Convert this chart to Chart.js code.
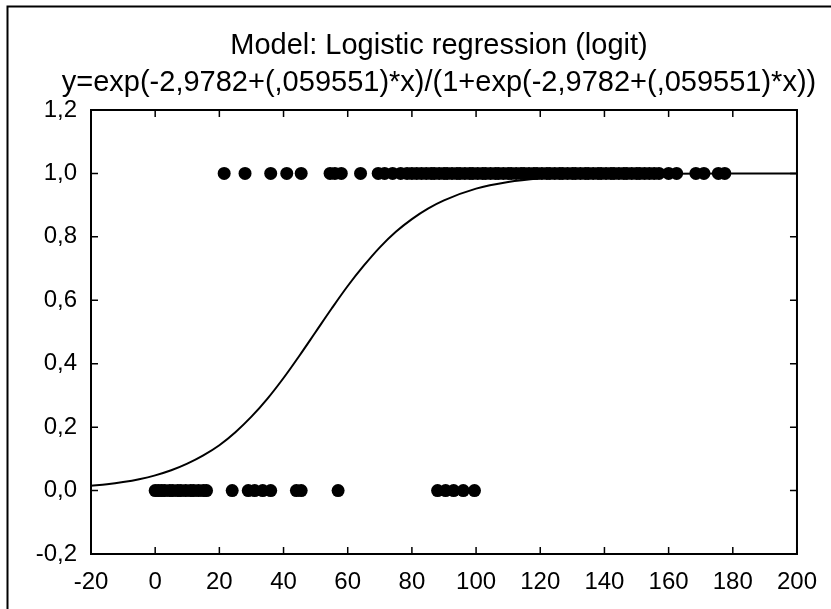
<!DOCTYPE html>
<html>
<head>
<meta charset="utf-8">
<script src="https://cdn.jsdelivr.net/npm/chart.js@4/dist/chart.umd.min.js"></script>
<style>
  html, body { margin: 0; padding: 0; background: #fff; }
  #wrap { width: 831px; height: 609px; position: relative; }
</style>
</head>
<body>
<div id="wrap"><canvas id="c"></canvas></div>
<script>
// ---- data ----
const titleLines = [
  'Model: Logistic regression (logit)',
  'y=exp(-2,9782+(,059551)*x)/(1+exp(-2,9782+(,059551)*x))'
];
const xTickLabels = ['-20','0','20','40','60','80','100','120','140','160','180','200'];
const yTickLabels = ['-0,2','0,0','0,2','0,4','0,6','0,8','1,0','1,2'];

// observations with outcome 1
const onesX = [21.5, 28, 36, 41, 45.5, 54.5, 56, 58, 64, 69.5, 71.5, 74, 76.5, 78.5,
  80, 81.5, 83, 84.5, 86, 87, 88.5, 90, 91, 92.5, 94, 95, 96.5, 98, 99, 100.5,
  102, 103, 104.5, 106, 107, 108.5, 110, 111, 112.5, 114, 115, 116.5, 118, 119,
  120.5, 122, 123, 124.5, 126, 127, 128.5, 130, 131, 132.5, 134, 135, 136.5, 138,
  139, 140.5, 142, 143, 144.5, 146, 147, 148.5, 150, 151, 152.5, 154, 155.5, 157,
  160, 162.5, 168.5, 171, 175.5, 177.5];
// observations with outcome 0
const zerosX = [0, 1, 2, 3, 4.5, 5.5, 7, 8, 9.5, 11, 12, 13.5, 15, 16,
  24, 29, 31, 33.5, 36, 44, 45.5, 57, 88, 90.5, 93, 96, 99.5];

// fitted curve
const curveX = [-20, -15, -10, -5, 0, 5, 10, 15, 20, 25, 30, 35, 40, 45, 50, 55, 60, 65,
  70, 75, 80, 85, 90, 100, 110, 120, 130, 140, 160, 180, 200];
const curveY = [0.015, 0.020, 0.027, 0.036, 0.048, 0.064, 0.085, 0.111, 0.143, 0.184,
  0.233, 0.290, 0.355, 0.426, 0.500, 0.574, 0.645, 0.709, 0.767, 0.816, 0.856, 0.889,
  0.915, 0.952, 0.973, 0.985, 0.992, 0.995, 0.999, 1.000, 1.000];

const FONT = "'Liberation Sans', Arial, sans-serif";

const frameTitleTicks = {
  id: 'frameTitleTicks',
  afterDraw(chart) {
    const ctx = chart.ctx;
    const a = chart.chartArea;
    const xs = chart.scales.x, ys = chart.scales.y;
    ctx.save();
    // outer frame (top/left)
    ctx.strokeStyle = '#000';
    ctx.lineWidth = 2;
    ctx.beginPath();
    ctx.moveTo(7.5, 640);
    ctx.lineTo(7.5, 6.5);
    ctx.lineTo(860, 6.5);
    ctx.stroke();
    // plot border
    ctx.lineWidth = 2;
    ctx.strokeRect(a.left, a.top, a.right - a.left, a.bottom - a.top);
    // inward ticks
    ctx.lineWidth = 1.5;
    const L = 7;
    ctx.beginPath();
    xs.ticks.forEach(t => {
      const px = xs.getPixelForValue(t.value);
      ctx.moveTo(px, a.bottom); ctx.lineTo(px, a.bottom - L);
      ctx.moveTo(px, a.top); ctx.lineTo(px, a.top + L);
    });
    ys.ticks.forEach(t => {
      const py = ys.getPixelForValue(t.value);
      ctx.moveTo(a.left, py); ctx.lineTo(a.left + L, py);
      ctx.moveTo(a.right, py); ctx.lineTo(a.right - L, py);
    });
    ctx.stroke();
    // title (two lines, centred over the plot)
    ctx.fillStyle = '#000';
    ctx.font = '29px ' + FONT;
    ctx.textAlign = 'center';
    ctx.textBaseline = 'middle';
    const cx = (a.left + a.right) / 2 - 5;
    ctx.fillText(titleLines[0], cx, 46);
    ctx.fillText(titleLines[1], cx, 83);
    ctx.restore();
  }
};

new Chart(document.getElementById('c'), {
  type: 'scatter',
  data: {
    datasets: [
      {
        label: 'curve',
        data: curveX.map((x, i) => ({ x, y: curveY[i] })),
        showLine: true,
        borderColor: '#000',
        borderWidth: 2,
        pointRadius: 0,
        cubicInterpolationMode: 'monotone',
        order: 2
      },
      {
        label: 'y=1',
        data: onesX.map(x => ({ x, y: 1 })),
        backgroundColor: '#000',
        borderColor: '#000',
        borderWidth: 0,
        pointRadius: 6.5,
        order: 1
      },
      {
        label: 'y=0',
        data: zerosX.map(x => ({ x, y: 0 })),
        backgroundColor: '#000',
        borderColor: '#000',
        borderWidth: 0,
        pointRadius: 6.5,
        order: 1
      }
    ]
  },
  options: {
    responsive: true,
    maintainAspectRatio: false,
    animation: false,
    events: [],
    layout: { padding: { left: 0, right: 30, top: 110, bottom: 0 } },
    plugins: {
      legend: { display: false },
      tooltip: { enabled: false },
      title: { display: false }
    },
    scales: {
      x: {
        type: 'linear',
        min: -20, max: 200,
        grid: { display: false, drawTicks: false },
        border: { display: false },
        ticks: {
          stepSize: 20,
          color: '#000',
          padding: 14,
          maxRotation: 0,
          autoSkip: false,
          font: { family: FONT, size: 24 },
          callback: (v, i) => xTickLabels[i]
        },
        afterFit: s => { s.height = 55; }
      },
      y: {
        type: 'linear',
        min: -0.2, max: 1.2,
        grid: { display: false, drawTicks: false },
        border: { display: false },
        ticks: {
          stepSize: 0.2,
          color: '#000',
          padding: 14,
          autoSkip: false,
          font: { family: FONT, size: 24 },
          callback: (v, i) => yTickLabels[i]
        },
        afterFit: s => { s.width = 91; }
      }
    }
  },
  plugins: [frameTitleTicks]
});
</script>
</body>
</html>
